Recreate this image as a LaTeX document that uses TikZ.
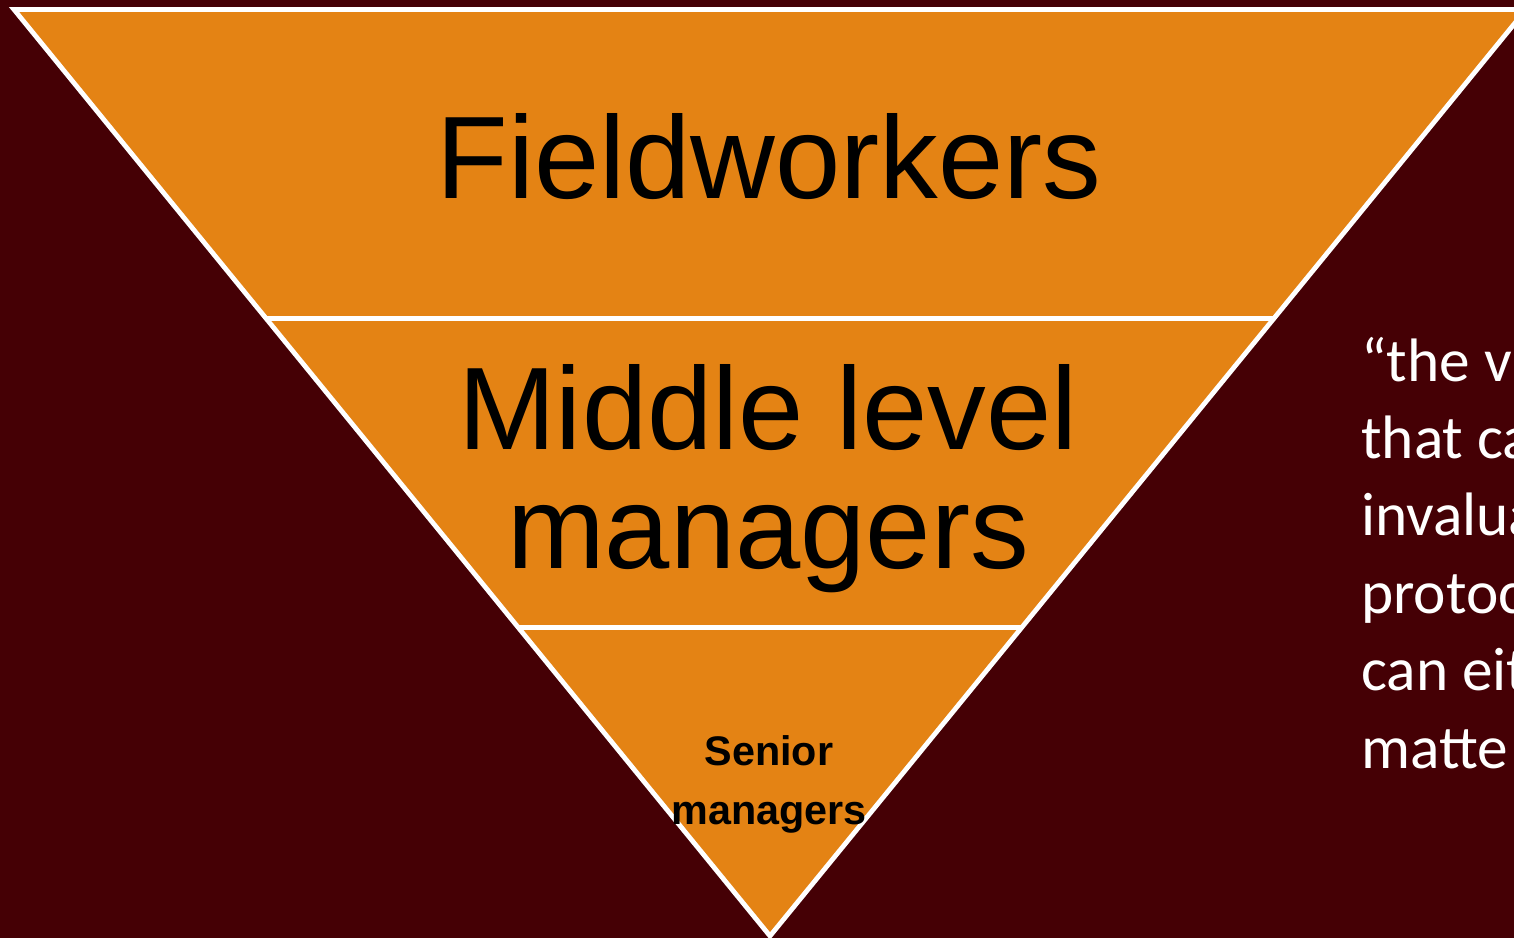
\documentclass[tikz,border=0pt]{standalone}
\usepackage{fontspec}
\newfontfamily\arialf{Liberation Sans}
\newfontfamily\calibrif{Carlito}
\usetikzlibrary{calc}
\definecolor{maroon}{HTML}{450005}
\definecolor{tierorange}{HTML}{E48314}
\tikzset{
  tier/.style={fill=tierorange, draw=white, line width=3.6pt, line join=miter},
  divider/.style={draw=white, line width=3.6pt},
  bigtext/.style={anchor=base, inner sep=0pt, text=black, font=\arialf\fontsize{88}{90}\selectfont},
  smalltext/.style={anchor=base, inner sep=0pt, text=black, font=\arialf\bfseries\fontsize{31}{36}\selectfont},
  quotetext/.style={anchor=base west, inner sep=0pt, text=white, font=\calibrif\fontsize{46}{55}\selectfont}
}
\begin{document}
\begin{tikzpicture}[x=0.75pt,y=-0.75pt]
\useasboundingbox (0,0) rectangle (1514,938);
\fill[maroon] (0,0) rectangle (1514,938);
\clip (0,0) rectangle (1514,938);
% triangle
\coordinate (TL) at (14,9.5);
\coordinate (TR) at (1526,9.5);
\coordinate (AP) at (770,936);
\coordinate (L1) at ($(TL)!1/3!(AP)$);
\coordinate (R1) at ($(TR)!1/3!(AP)$);
\coordinate (L2) at ($(TL)!2/3!(AP)$);
\coordinate (R2) at ($(TR)!2/3!(AP)$);
\path[tier] (TL) -- (TR) -- (AP) -- cycle;
\draw[divider] (L1) -- (R1);
\draw[divider] (L2) -- (R2);
% labels
\node[bigtext] (fw) at (769,199) {Fieldworkers};
\node[bigtext] (mid1) at (768,449) {Middle level};
\node[bigtext] (mid2) at (768,568) {managers};
\node[smalltext] (sen1) at (769,765) {Senior};
\node[smalltext] (sen2) at (769,824) {managers};
% quote (cut by the picture edge, as in the reference)
\node[quotetext] (q1) at (1361,381) {“the v};
\node[quotetext] (q2) at (1361,458) {that ca};
\node[quotetext] (q3) at (1361,535) {invalua};
\node[quotetext] (q4) at (1361,613) {protoco};
\node[quotetext] (q5) at (1361,690) {can eit};
\node[quotetext] (q6) at (1361,768) {matte};
\end{tikzpicture}
\end{document}
